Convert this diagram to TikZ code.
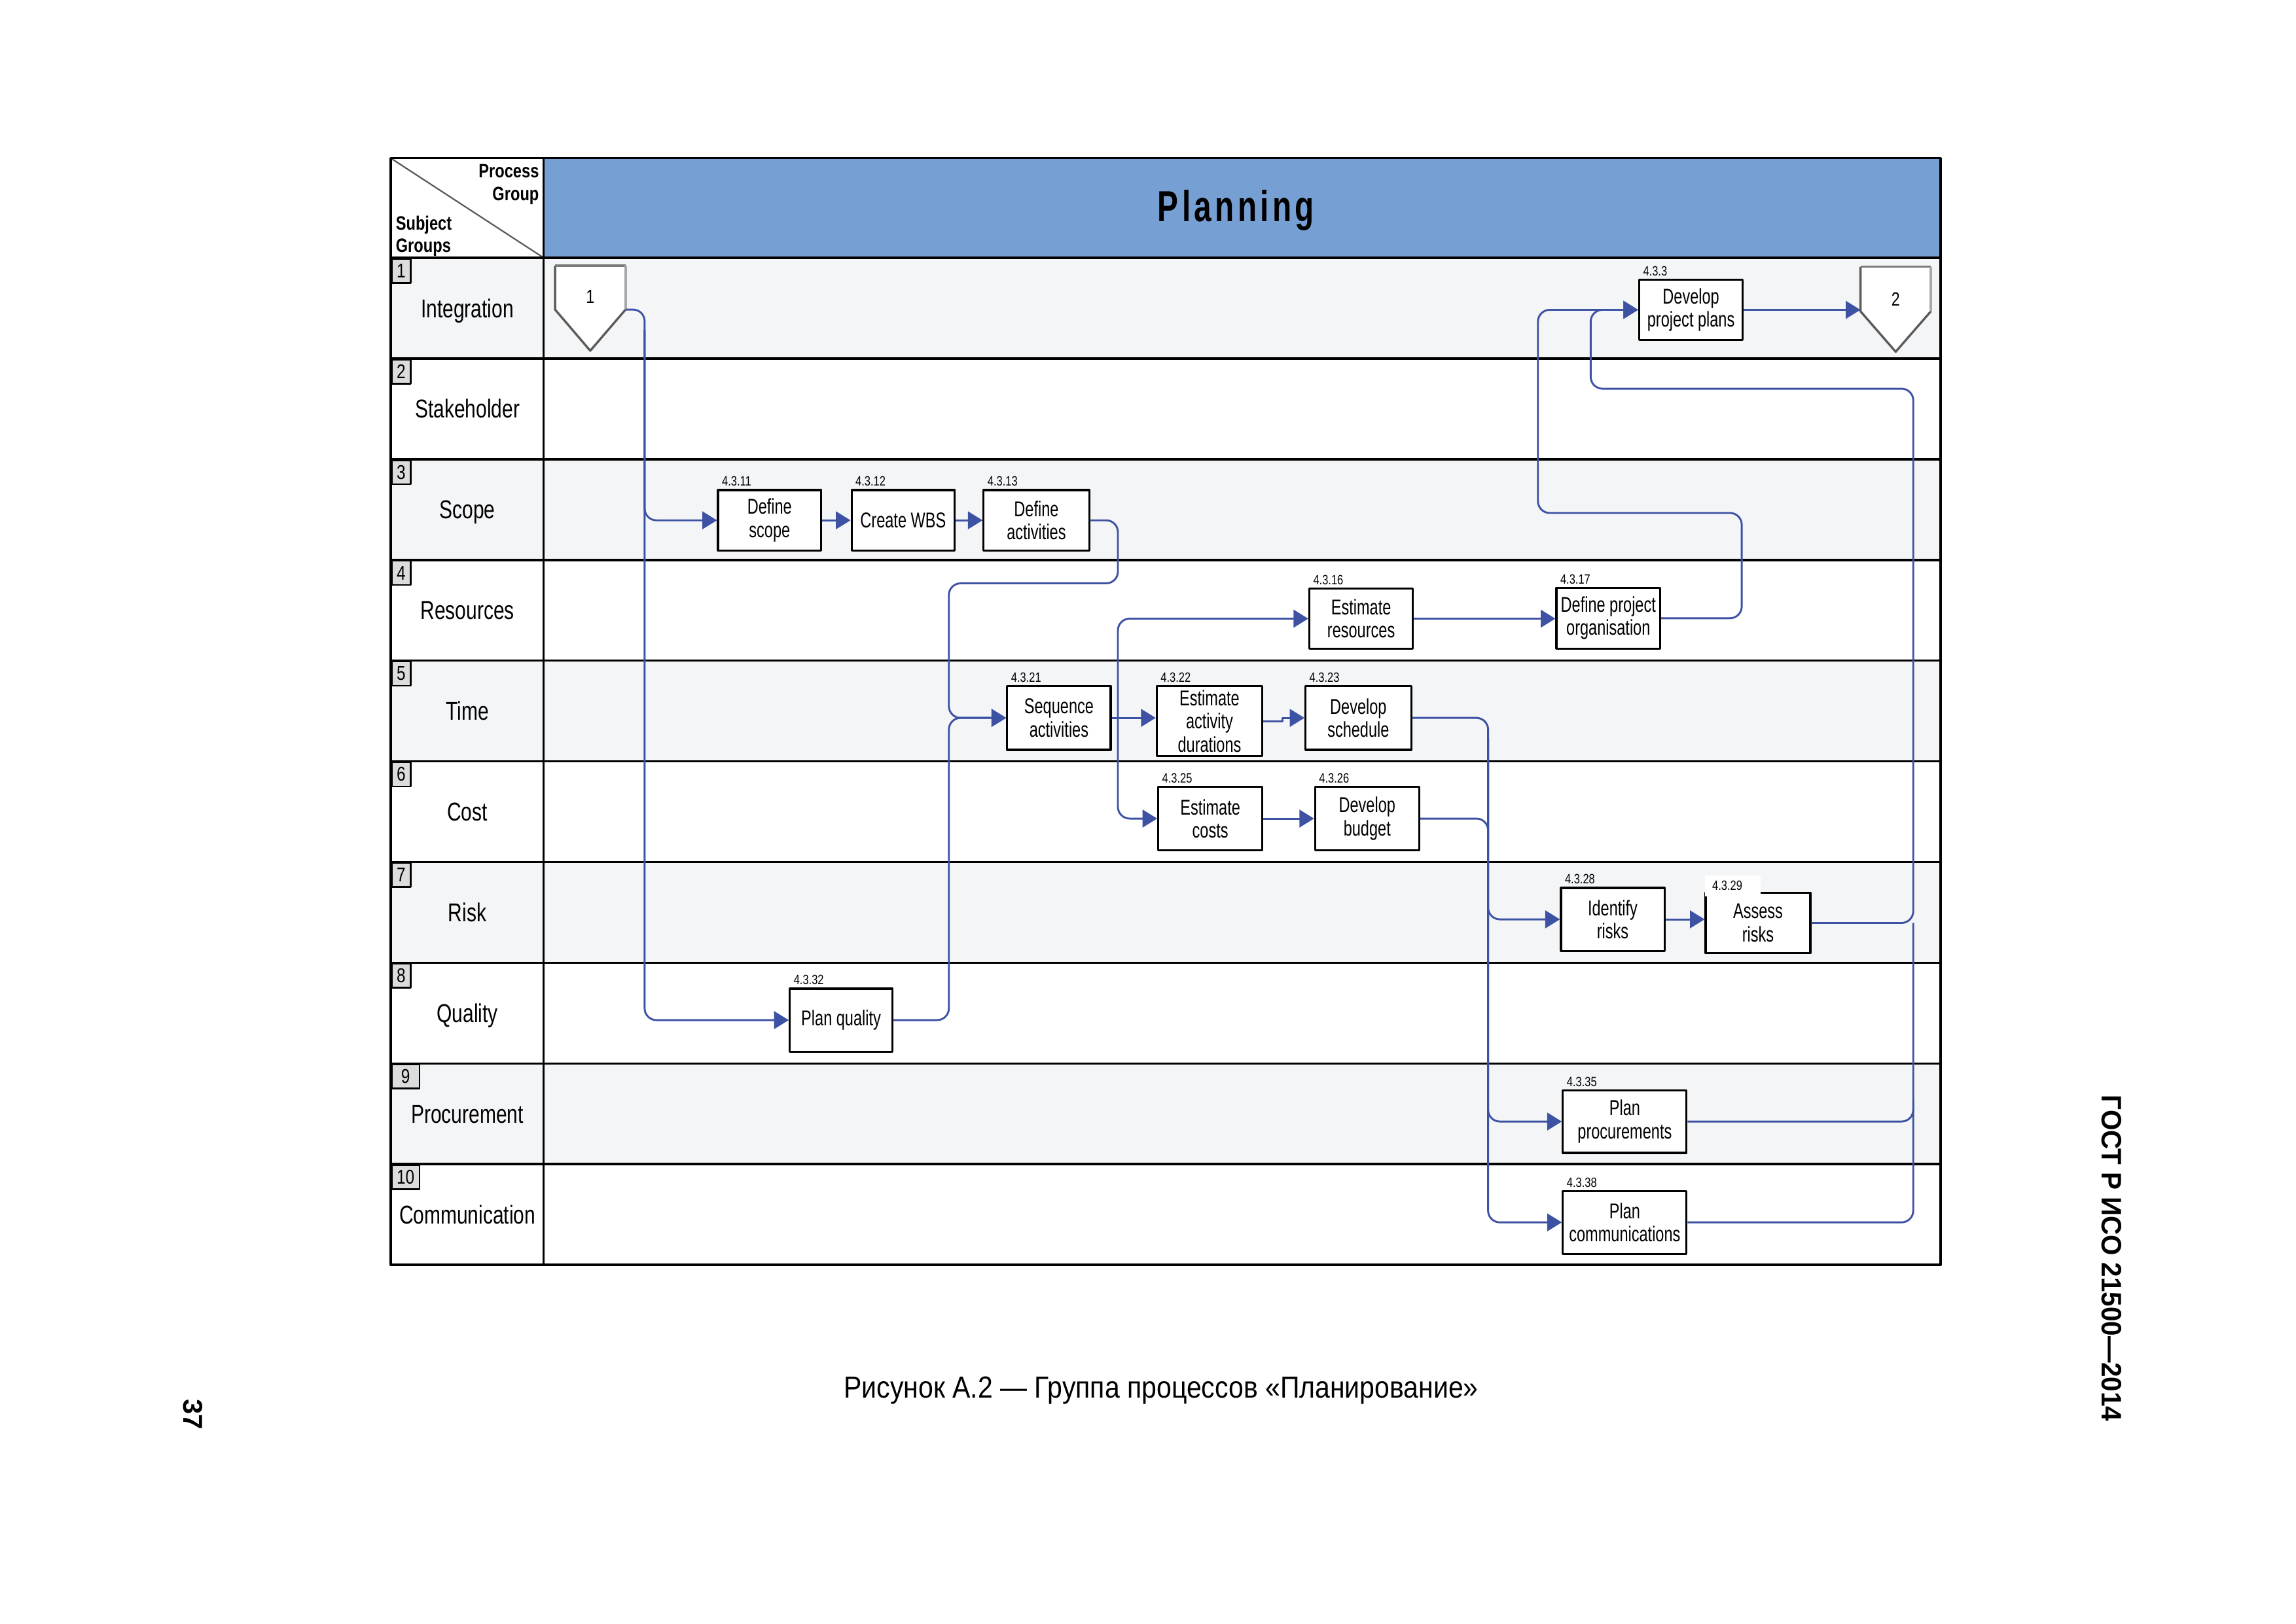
\documentclass[tikz,border=0pt]{standalone}
\usepackage{fontspec}
\setmainfont{Liberation Sans}
\newfontfamily\rowf[FakeStretch=0.76]{Liberation Sans}
\newfontfamily\boxf[FakeStretch=0.72]{Liberation Sans}
\newfontfamily\numf[FakeStretch=0.8]{Liberation Sans}
\newfontfamily\planf[FakeStretch=0.72,LetterSpace=8]{Liberation Sans}
\newfontfamily\capf[FakeStretch=0.88]{Liberation Sans}
\newfontfamily\gostf[FakeStretch=0.94]{Liberation Sans}
\usetikzlibrary{arrows.meta,calc}
\definecolor{hdrblue}{HTML}{76A0D3}
\definecolor{rowgray}{HTML}{F4F5F7}
\definecolor{conblue}{HTML}{3E52A4}
\definecolor{numgray}{HTML}{DCDCDC}
\definecolor{pdark}{HTML}{5A5A5A}
\definecolor{pmid}{HTML}{7A7A7A}
\definecolor{plight}{HTML}{A8A8A8}
\tikzset{
  tbl/.style={draw=black, line width=0.8pt},
  proc/.style={draw=black, line width=0.7pt, fill=white, inner sep=0pt, align=center,
    minimum width=35.3pt, minimum height=21pt, font=\boxf\fontsize{7.3}{7.9}\selectfont},
  pnum/.style={font=\numf\fontsize{4.6}{5}\selectfont, inner sep=0pt, anchor=base west},
  rowlbl/.style={font=\rowf\fontsize{8.8}{10}\selectfont, inner sep=0pt, anchor=base},
  numbox/.style={draw=black, line width=0.6pt, fill=numgray, anchor=north west,
    minimum height=8.25pt, inner sep=0pt, font=\numf\fontsize{6.8}{7}\selectfont},
  conn/.style={draw=conblue, line width=0.65pt, rounded corners=4pt,
    -{Triangle[length=5pt,width=6pt]}},
  connp/.style={draw=conblue, line width=0.65pt, rounded corners=4pt},
  hdrtxt/.style={font=\numf\bfseries\fontsize{6.6}{7.7}\selectfont, inner sep=0pt},
}
\begin{document}
\begin{tikzpicture}[x=0.5pt, y=-0.5pt, line join=round]
\useasboundingbox (0,0) rectangle (1566.07,1107.6);
\fill[white] (0,0) rectangle (1566.07,1107.6);

% ---------- table background ----------
\foreach \i in {0,2,4,6,8}
  \fill[rowgray] (266.5,{175.9+68.71*\i}) rectangle (1323.6,{175.9+68.71*(\i+1)});
\fill[hdrblue] (370.8,107.9) rectangle (1323.6,175.9);
\draw[draw=pdark, line width=0.5pt] (266.5,107.9) -- (370.8,175.9);

% ---------- grid ----------
\foreach \i in {0,...,9}
  \draw[tbl] (266.5,{175.9+68.71*\i}) -- (1323.6,{175.9+68.71*\i});
\draw[tbl] (370.8,107.9) -- (370.8,863);
\draw[tbl] (266.5,107.9) rectangle (1323.6,863);

% ---------- header texts ----------
\node[hdrtxt, align=right, anchor=north east] (pg1) at (368,111.9) {Process\\Group};
\node[hdrtxt, align=left, anchor=north west] (sg1) at (269.6,146.8) {Subject\\Groups};
\node[font=\planf\bfseries\fontsize{14.8}{16}\selectfont, anchor=base, inner sep=0pt] (title) at (843,151) {Planning};

% ---------- row labels and number boxes ----------
\foreach \i/\t in {0/Integration,1/Stakeholder,2/Scope,3/Resources,4/Time,5/Cost,6/Risk,7/Quality,8/Procurement,9/Communication}
  \node[rowlbl] (rl\i) at (318.8,{175.9+68.71*(\i+0.5)+6.3}) {\t};
\foreach \i in {1,...,8}
  \node[numbox, minimum width=6.5pt] (nb\i) at (266.5,{175.9+68.71*(\i-1)}) {\i};
\foreach \i in {9,10}
  \node[numbox, minimum width=9.5pt] (nb\i) at (266.5,{175.9+68.71*(\i-1)}) {\i};

% ---------- off-page connectors ----------
\fill[white] (378.6,181.3) -- (426.7,181.3) -- (426.7,211.2) -- (402.6,239.3) -- (378.6,211.2) -- cycle;
\draw[draw=pdark, line width=0.75pt] (378.6,181.3) -- (378.6,211.2) -- (402.6,239.3) -- (426.7,211.2);
\draw[draw=pmid, line width=0.75pt] (378.6,181.3) -- (426.7,181.3);
\draw[draw=plight, line width=0.75pt] (426.7,181.3) -- (426.7,211.2);
\node[font=\numf\fontsize{6.5}{7}\selectfont, inner sep=0pt] (p1) at (402.6,202.3) {1};
\coordinate (p1out) at (426.7,211.2);

\fill[white] (1269,182) -- (1317,182) -- (1317,212.4) -- (1293,240) -- (1269,212.4) -- cycle;
\draw[draw=pdark, line width=0.75pt] (1269,182) -- (1269,212.4) -- (1293,240) -- (1317,212.4);
\draw[draw=pmid, line width=0.75pt] (1269,182) -- (1317,182);
\draw[draw=plight, line width=0.75pt] (1317,182) -- (1317,212.4);
\node[font=\numf\fontsize{6.5}{7}\selectfont, inner sep=0pt] (p2) at (1293,204) {2};
\coordinate (p2in) at (1269,212.4);

% ---------- process boxes ----------
\node[proc, minimum width=35.15pt, minimum height=20.65pt] (dscope) at (524.9,355) {Define\\scope};
\node[proc, minimum width=35.15pt, minimum height=20.65pt] (wbs) at (616,355) {Create WBS};
\node[proc, minimum width=36pt, minimum height=20.65pt] (dact) at (706.9,355) {Define\\activities};
\node[proc, minimum width=35.35pt, minimum height=20.6pt] (eres) at (928.4,422.1) {Estimate\\resources};
\node[proc, minimum width=35.4pt, minimum height=20.75pt] (dorg) at (1097,421.8) {Define project\\organisation};
\node[proc, minimum width=35.35pt, minimum height=20.6pt] (dpp) at (1153.4,211.4) {Develop\\project plans};
\node[proc, minimum width=35.3pt, minimum height=21.8pt] (seq) at (722.3,489.8) {Sequence\\activities};
\node[proc, minimum width=36pt, minimum height=24pt] (ead) at (825,492) {Estimate\\activity\\durations};
\node[proc, minimum width=36.05pt, minimum height=21.8pt] (dsch) at (926.5,489.8) {Develop\\schedule};
\node[proc, minimum width=35.5pt, minimum height=21.5pt] (ecost) at (825.5,558.5) {Estimate\\costs};
\node[proc, minimum width=35.5pt, minimum height=21.5pt] (dbud) at (932.5,558.5) {Develop\\budget};
\node[proc, minimum width=35.3pt, minimum height=21.45pt] (idr) at (1100,627.25) {Identify\\risks};
\node[proc, minimum width=35.7pt, minimum height=20.7pt] (asr) at (1199.1,629.7) {Assess\\risks};
\node[proc, minimum width=35pt, minimum height=21.45pt] (pq) at (573.7,696) {Plan quality};
\node[proc, minimum width=42.2pt, minimum height=21.4pt] (pproc) at (1108.2,765.2) {Plan\\procurements};
\node[proc, minimum width=42.2pt, minimum height=21.45pt] (pcom) at (1108.2,834) {Plan\\communications};

% ---------- process numbers ----------
\node[pnum] (n11) at ($(dscope.north west)+(3,-2)$) {4.3.11};
\node[pnum] (n12) at ($(wbs.north west)+(3,-2)$) {4.3.12};
\node[pnum] (n13) at ($(dact.north west)+(3,-2)$) {4.3.13};
\node[pnum] (n16) at ($(eres.north west)+(3,-2)$) {4.3.16};
\node[pnum] (n17) at ($(dorg.north west)+(3,-2)$) {4.3.17};
\node[pnum] (n3) at ($(dpp.north west)+(3,-2)$) {4.3.3};
\node[pnum] (n21) at ($(seq.north west)+(3,-2)$) {4.3.21};
\node[pnum] (n22) at ($(ead.north west)+(3,-2)$) {4.3.22};
\node[pnum] (n23) at ($(dsch.north west)+(3,-2)$) {4.3.23};
\node[pnum] (n25) at ($(ecost.north west)+(3,-2)$) {4.3.25};
\node[pnum] (n26) at ($(dbud.north west)+(3,-2)$) {4.3.26};
\node[pnum] (n28) at ($(idr.north west)+(3,-2)$) {4.3.28};
\node[pnum, fill=white, anchor=north west, align=left, text width=14pt, inner xsep=2.5pt,
      minimum height=7.25pt] (n29) at (1162.5,596.7) {4.3.29};
\node[pnum] (n32) at ($(pq.north west)+(3,-2)$) {4.3.32};
\node[pnum] (n35) at ($(pproc.north west)+(3,-2)$) {4.3.35};
\node[pnum] (n38) at ($(pcom.north west)+(3,-2)$) {4.3.38};

% ---------- routing coordinates ----------
\coordinate (xa) at (439.7,0);
\coordinate (xb) at (762.5,0);
\coordinate (yb) at (0,398);
\coordinate (xc) at (647.2,0);
\coordinate (xd) at (1188,0);
\coordinate (yd) at (0,350);
\coordinate (xe) at (1049,0);
\coordinate (xf) at (1015,0);
\coordinate (xg) at (1305,0);
\coordinate (yg) at (0,265.2);
\coordinate (xh) at (1085,0);

% ---------- connectors ----------
\draw[conn] (p1out) -- (xa |- p1out) |- (pq.west);
\draw[conn] ($(xa |- p1out)+(0,14)$) |- (dscope.west);
\draw[conn] (dscope.east) -- (wbs.west);
\draw[conn] (wbs.east) -- (dact.west);
\draw[conn] (dact.east) -| (xb |- yb) -| (xc |- seq.west) -- (seq.west);
\draw[conn] (pq.east) -| (xc |- seq.west) -- (seq.west);
\draw[conn] (seq.east) -- (seq.east -| ead.west);
\draw[conn] (xb |- seq.east) |- (eres.west);
\draw[conn] (xb |- seq.east) |- (ecost.west);
\draw[conn, rounded corners=0pt] (ead.east) -- ++(13,0) |- (dsch.west);
\draw[conn] (ecost.east) -- (ecost.east -| dbud.west);
\draw[conn] (eres.east) -- (eres.east -| dorg.west);
\draw[conn] (dorg.east) -| (xd |- yd) -| (xe |- dpp.west) -- (dpp.west);
\draw[conn] (dpp.east) -- (dpp.east -| p2in);
\draw[conn] (dsch.east) -| (xf |- idr.west) -- (idr.west);
\draw[conn] ($(xf |- dsch.east)+(0,14)$) |- (pproc.west);
\draw[conn] ($(xf |- dsch.east)+(0,14)$) |- (pcom.west);
\draw[connp] (dbud.east) -| ($(xf |- dbud.east)+(0,14)$);
\draw[conn] (idr.east) -- (idr.east -| asr.west);
\draw[conn] (asr.east) -| (xg |- yg) -| (xh |- dpp.west) -- (dpp.west);
\draw[connp] (pproc.east) -| ($(xg |- pproc.east)+(0,-14)$);
\draw[connp] (pcom.east) -| (xg |- asr.east);

% ---------- page texts ----------
\node[font=\capf\fontsize{10.4}{12}\selectfont, anchor=base, inner sep=0pt] (cap) at (792,954)
  {Рисунок А.2 — Группа процессов «Планирование»};
\node[font=\gostf\bfseries\fontsize{9.6}{11}\selectfont, rotate=-90, inner sep=0pt] (gost) at (1440.5,858.5)
  {ГОСТ Р ИСО 21500—2014};
\node[font=\bfseries\fontsize{9.3}{11}\selectfont, rotate=-90, inner sep=0pt] (pgno) at (131.7,965) {37};
\end{tikzpicture}
\end{document}
